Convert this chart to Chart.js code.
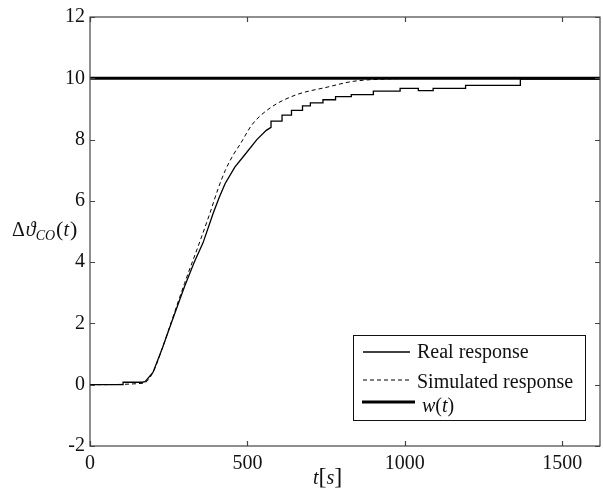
<!DOCTYPE html>
<html>
<head>
<meta charset="utf-8">
<script src="https://cdn.jsdelivr.net/npm/chart.js@4/dist/chart.umd.min.js"></script>
<style>
html,body{margin:0;padding:0;background:#fff;}
#wrap{position:relative;width:603px;height:492px;}
</style>
</head>
<body>
<div id="wrap"><canvas id="c" width="603" height="492"></canvas></div>
<script>
// ---- data ----
const realT = [0,105,105,165,175,200,230,260,300,331,359,391,410,429,460,493,530,560,575,575,610,610,640,640,675,675,700,700,740,740,780,780,830,830,900,900,985,985,1043,1043,1090,1090,1193,1193,1367,1367,1620];
const realV = [0,0,0.08,0.08,0.1,0.4,1.2,2.06,3.2,4.0,4.63,5.59,6.1,6.56,7.1,7.52,8.0,8.3,8.4,8.6,8.6,8.8,8.8,8.95,8.95,9.1,9.1,9.2,9.2,9.3,9.3,9.4,9.4,9.47,9.47,9.58,9.58,9.67,9.67,9.6,9.6,9.67,9.67,9.77,9.77,9.97,9.97];
const simT = [0,170,200,230,260,300,350,381,407,430,455,477,515,572,652,753,836,950,1100,1620];
const simV = [0,0.05,0.4,1.2,2.1,3.3,4.7,5.6,6.4,7.0,7.5,7.85,8.49,9.03,9.45,9.71,9.9,9.98,10,10];
const refT = [0,1620];
const refV = [10,10];
const seriesLabels = ["Real response","Simulated response","w(t)"];
const xTicks = [0,500,1000,1500];
const yTicks = [-2,0,2,4,6,8,10,12];

const pts = (t,v)=>t.map((x,i)=>({x:x,y:v[i]}));
const SERIF = '"Liberation Serif", "DejaVu Serif", serif';
Chart.defaults.font.family = SERIF;

const framePlugin = {
  id:'frame',
  afterDraw(chart){
    const {ctx, chartArea:a, scales:{x,y}} = chart;
    ctx.save();
    ctx.strokeStyle = '#444';
    ctx.lineWidth = 1.2;
    ctx.strokeRect(a.left, a.top, a.right-a.left, a.bottom-a.top);
    const L = 5;
    ctx.beginPath();
    xTicks.forEach(v=>{
      const px = Math.round(x.getPixelForValue(v))+0.5;
      ctx.moveTo(px,a.bottom); ctx.lineTo(px,a.bottom-L);
      ctx.moveTo(px,a.top); ctx.lineTo(px,a.top+L);
    });
    yTicks.forEach(v=>{
      const py = Math.round(y.getPixelForValue(v))+0.5;
      ctx.moveTo(a.left,py); ctx.lineTo(a.left+L,py);
      ctx.moveTo(a.right,py); ctx.lineTo(a.right-L,py);
    });
    ctx.stroke();

    // axis labels
    ctx.fillStyle = '#111';
    ctx.textBaseline = 'alphabetic';
    ctx.textAlign = 'left';
    // y label: Δϑ_CO(t)
    let xx = 12, by = 236;
    ctx.font = '20px '+SERIF;
    ctx.fillText('Δ', xx, by); xx += ctx.measureText('Δ').width + 1;
    ctx.font = 'italic 20px '+SERIF;
    ctx.fillText('ϑ', xx, by); xx += ctx.measureText('ϑ').width;
    ctx.font = 'italic 14px '+SERIF;
    ctx.fillText('CO', xx, by+4); xx += ctx.measureText('CO').width + 1;
    ctx.font = '22px '+SERIF;
    ctx.fillText('(', xx, by); xx += ctx.measureText('(').width;
    ctx.font = 'italic 20px '+SERIF;
    ctx.fillText('t', xx, by); xx += ctx.measureText('t').width + 1;
    ctx.font = '22px '+SERIF;
    ctx.fillText(')', xx, by);
    // x label: t[s]
    xx = 313; by = 484;
    ctx.font = 'italic 20px '+SERIF;
    ctx.fillText('t', xx, by); xx += ctx.measureText('t').width;
    ctx.font = '24px '+SERIF;
    ctx.fillText('[', xx, by); xx += ctx.measureText('[').width;
    ctx.font = 'italic 20px '+SERIF;
    ctx.fillText('s', xx, by); xx += ctx.measureText('s').width;
    ctx.font = '24px '+SERIF;
    ctx.fillText(']', xx, by);

    // legend box
    const bx=353, byy=335, bw=232, bh=85;
    ctx.fillStyle='#fff';
    ctx.fillRect(bx,byy,bw,bh);
    ctx.strokeStyle='#111'; ctx.lineWidth=1;
    ctx.strokeRect(bx+0.5,byy+0.5,bw,bh);
    const rows = [{ly:352,ty:358,tx:417,x1:363,x2:410},{ly:380,ty:388,tx:417,x1:363,x2:410},{ly:402,ty:412,tx:422,x1:362,x2:415}];
    chart.data.datasets.forEach((ds,i)=>{
      const r = rows[i];
      ctx.strokeStyle = ds.borderColor; ctx.lineWidth = ds.borderWidth;
      ctx.setLineDash(ds.borderDash||[]);
      ctx.beginPath(); ctx.moveTo(r.x1,r.ly); ctx.lineTo(r.x2,r.ly); ctx.stroke();
      ctx.setLineDash([]);
      ctx.fillStyle='#111';
      if(i===2){
        let tx=r.tx;
        ctx.font='italic 20px '+SERIF; ctx.fillText('w',tx,r.ty); tx+=ctx.measureText('w').width;
        ctx.font='20px '+SERIF; ctx.fillText('(',tx,r.ty); tx+=ctx.measureText('(').width;
        ctx.font='italic 20px '+SERIF; ctx.fillText('t',tx,r.ty); tx+=ctx.measureText('t').width;
        ctx.font='20px '+SERIF; ctx.fillText(')',tx,r.ty);
      } else {
        ctx.font='20px '+SERIF;
        ctx.fillText(ds.label, r.tx, r.ty);
      }
    });
    ctx.restore();
  }
};

new Chart(document.getElementById('c'), {
  type:'line',
  data:{
    datasets:[
      {label:seriesLabels[0], data:pts(realT,realV), borderColor:'#000', borderWidth:1.3, pointRadius:0, fill:false, tension:0},
      {label:seriesLabels[1], data:pts(simT,simV), borderColor:'#000', borderWidth:1, borderDash:[4,3], pointRadius:0, fill:false, cubicInterpolationMode:'monotone'},
      {label:seriesLabels[2], data:pts(refT,refV), borderColor:'#000', borderWidth:3, pointRadius:0, fill:false}
    ]
  },
  options:{
    responsive:false, animation:false, events:[],
    layout:{padding:{left:0,top:11,right:3,bottom:0}},
    plugins:{legend:{display:false}, tooltip:{enabled:false}},
    scales:{
      x:{type:'linear', min:0, max:1620,
        afterBuildTicks(s){ s.ticks = xTicks.map(v=>({value:v})); },
        afterFit(s){ s.height = 46; },
        grid:{display:false, drawTicks:false}, border:{display:false},
        ticks:{font:{family:SERIF,size:20}, color:'#111', padding:6, maxRotation:0, callback:(v)=>String(v)}},
      y:{type:'linear', min:-2, max:12,
        afterBuildTicks(s){ s.ticks = yTicks.map(v=>({value:v})); },
        afterFit(s){ s.width = 90; },
        grid:{display:false, drawTicks:false}, border:{display:false},
        ticks:{font:{family:SERIF,size:20}, color:'#111', padding:5, callback:(v)=>String(v)}}
    }
  },
  plugins:[framePlugin]
});
</script>
</body>
</html>
